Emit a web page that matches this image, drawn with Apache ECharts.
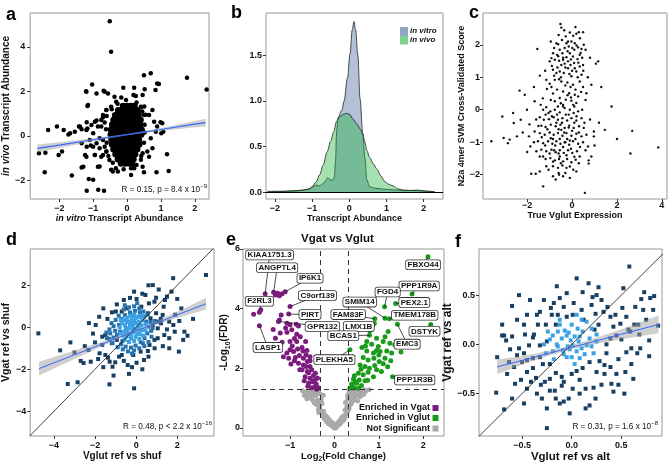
<!DOCTYPE html>
<html><head><meta charset="utf-8">
<script src="https://cdn.jsdelivr.net/npm/echarts@6/dist/echarts.min.js"></script>
<style>html,body{margin:0;padding:0;background:#fff}#c{width:668px;height:465px}</style>
</head><body><div id="c"></div><script>
// ---------- Panel a ----------
const aOutliers = [[-0.51,5.15],[-0.47,3.78],[0.50,2.73],[0.70,2.81],[1.77,2.61],[2.35,2.09],[-1.03,2.31],[-1.21,2.01],[-0.90,1.91],[-0.69,2.03],[-0.56,1.91],[-0.11,2.16],[0.21,2.16],[0.52,2.10],[0.94,2.33],[0.84,2.06],[0.19,1.84],[0.26,1.79],[-1.17,1.34],[-0.37,1.76],[-0.17,1.73],[0.75,1.16],[-2.33,0.27],[-2.07,0.42],[-1.87,0.27],[-1.68,0.12],[-1.73,0.07],[-1.42,0.42],[-1.34,0.30],[-1.17,0.34],[-1.19,0.61],[-0.90,0.69],[-0.71,0.84],[-1.00,0.12],[-2.60,-0.78],[-2.41,-0.75],[-2.43,-1.63],[-2.02,-0.85],[-1.92,-0.70],[-1.63,-1.78],[-1.34,-1.42],[-1.24,-0.85],[-1.19,-0.48],[-1.07,-0.43],[-0.95,-0.85],[-0.81,-1.37],[-1.13,-1.93],[-1.00,-1.97],[-1.19,-2.46],[-0.85,-2.42],[-0.68,-2.46],[-0.42,-1.60],[-0.27,-1.60],[0.12,-1.75],[0.50,-1.63],[0.87,-1.63],[1.23,-1.57],[1.18,-0.82],[1.01,0.12],[1.07,0.19],[1.04,0.57],[0.99,0.61],[0.89,0.42],[0.60,-0.70],[0.46,-0.78],[0.41,-1.07],[-0.61,-0.70],[-0.71,-0.85],[-0.66,-0.48],[-0.81,-0.10],[-0.76,0.42],[-0.61,1.16],[-0.47,1.31],[-0.32,1.54],[-0.03,1.61],[0.41,1.31],[0.50,0.94],
[-0.6,0.9],[-0.62,0.3],[-0.6,-0.3],[-0.55,-0.9],[-0.42,-1.2],[-0.33,-1.45],[0.28,-1.3],[0.42,-0.9],[0.5,-0.3],[0.52,0.5],[0.45,1.1],[0.28,1.5],[-0.28,1.45],[-0.45,1.2],[0.12,-1.45],[-0.1,-1.5],[0.52,0.15],[-0.66,0.6],[0.55,0.95],[0.42,1.3],
[-1.2,1.99],[-1.15,1.39],[-0.66,1.99],[-1.54,0.19],[-1.39,0.42],[-1.2,0.27],[-1.05,0.49],[-0.95,0.64],[-0.86,0.42],[-0.76,0.72],[-0.71,0.94],[-0.61,1.17],[-1.34,-0.33],[-1.1,-0.18],[-1.0,-0.48],[-0.9,-0.33],[-0.81,-0.55],[-0.71,-0.18],[-1.2,-0.93],[-0.95,-0.85],[-0.76,-0.93],[-0.61,-0.7],[-0.52,-1.08],[-0.86,-1.38],[-0.47,-1.52],[0.21,-1.45],[0.46,-1.38],[0.65,-0.93],[0.75,-0.55],[0.7,-0.1],[0.85,0.19],[0.8,0.64],[0.65,0.94],[0.51,1.32],[0.46,1.84],[0.89,2.36],[-1.29,-1.38]];
const aBlob = [[-0.12,1.35],[0,1.35],[0.12,1.35],[0.22,1.35],
[-0.26,1.15],[-0.14,1.15],[-0.02,1.15],[0.1,1.15],[0.21,1.15],[0.31,1.15],
[-0.35,0.93],[-0.23,0.93],[-0.11,0.93],[0.01,0.93],[0.13,0.93],[0.24,0.93],[0.34,0.93],
[-0.4,0.72],[-0.28,0.72],[-0.16,0.72],[-0.04,0.72],[0.08,0.72],[0.2,0.72],[0.31,0.72],[0.4,0.72],
[-0.44,0.5],[-0.32,0.5],[-0.2,0.5],[-0.08,0.5],[0.04,0.5],[0.16,0.5],[0.27,0.5],[0.38,0.5],
[-0.47,0.28],[-0.35,0.28],[-0.23,0.28],[-0.11,0.28],[0.01,0.28],[0.13,0.28],[0.24,0.28],[0.35,0.28],[0.43,0.28],
[-0.48,0.06],[-0.36,0.06],[-0.24,0.06],[-0.12,0.06],[0,0.06],[0.12,0.06],[0.23,0.06],[0.34,0.06],[0.42,0.06],
[-0.46,-0.16],[-0.34,-0.16],[-0.22,-0.16],[-0.1,-0.16],[0.02,-0.16],[0.14,-0.16],[0.25,-0.16],[0.35,-0.16],
[-0.44,-0.38],[-0.32,-0.38],[-0.2,-0.38],[-0.08,-0.38],[0.04,-0.38],[0.16,-0.38],[0.27,-0.38],[0.36,-0.38],
[-0.4,-0.6],[-0.28,-0.6],[-0.16,-0.6],[-0.04,-0.6],[0.08,-0.6],[0.2,-0.6],[0.3,-0.6],
[-0.34,-0.82],[-0.22,-0.82],[-0.1,-0.82],[0.02,-0.82],[0.14,-0.82],[0.24,-0.82],
[-0.27,-1.04],[-0.15,-1.04],[-0.03,-1.04],[0.09,-1.04],[0.19,-1.04],
[-0.18,-1.24],[-0.06,-1.24],[0.06,-1.24],[0.15,-1.24]];
const aFitX   = [-2.65,-2,-1,0,1,2,2.32];
const aFitY   = [-0.56,-0.41,-0.17,0.06,0.29,0.53,0.60];
const aFitLow = [-0.74,-0.54,-0.24,0.03,0.22,0.39,0.43];
const aFitHigh= [-0.38,-0.28,-0.10,0.09,0.36,0.67,0.77];

// ---------- Panel b ----------
const bInVitro = [[-2.2,0.005],[-2.0,0.008],[-1.8,0.008],[-1.6,0.012],[-1.4,0.015],[-1.2,0.025],[-1.05,0.04],[-0.95,0.07],[-0.88,0.08],[-0.8,0.07],[-0.72,0.09],[-0.65,0.12],[-0.58,0.16],[-0.52,0.14],[-0.45,0.13],[-0.4,0.17],[-0.37,0.35],[-0.34,0.68],[-0.3,0.82],[-0.2,0.9],[-0.14,1.0],[-0.05,1.25],[0.02,1.52],[0.08,1.78],[0.125,1.87],[0.17,1.78],[0.23,1.5],[0.29,1.02],[0.36,0.65],[0.42,0.38],[0.47,0.14],[0.55,0.06],[0.7,0.045],[0.9,0.035],[1.1,0.03],[1.4,0.02],[1.7,0.02],[1.9,0.015],[2.1,0.01],[2.3,0.005]];
const bInVivo = [[-2.2,0.01],[-1.8,0.012],[-1.5,0.018],[-1.25,0.025],[-1.1,0.035],[-1.0,0.06],[-0.9,0.11],[-0.8,0.19],[-0.7,0.3],[-0.6,0.44],[-0.5,0.56],[-0.42,0.66],[-0.34,0.78],[-0.25,0.83],[-0.15,0.855],[-0.07,0.865],[0.02,0.85],[0.1,0.8],[0.2,0.75],[0.3,0.69],[0.36,0.64],[0.42,0.55],[0.47,0.46],[0.55,0.38],[0.65,0.31],[0.75,0.25],[0.85,0.18],[0.95,0.12],[1.05,0.09],[1.18,0.07],[1.3,0.04],[1.45,0.025],[1.65,0.02],[1.85,0.025],[2.05,0.015],[2.3,0.005]];

// ---------- Panel c ----------
const cPoints = [[-3.6,-0.97],[-3.11,-0.21],[-3.05,-0.87],[-2.86,-1.03],[-2.78,-0.92],[-2.63,-0.1],[-2.6,-0.41],[-2.34,0.59],[-2.29,-0.31],[-2.11,0.46],[-2.46,-0.82],[-2.01,0.0],[-1.92,-0.82],[-1.86,-1.13],[-1.67,0.26],[-1.55,1.87],[-1.44,1.05],[-1.82,-1.97],[-1.62,-1.97],[-1.44,-1.9],[-1.29,-2.36],[-1.15,-1.74],[-0.85,-2.05],[-0.73,-2.15],[-0.58,-2.0],[-0.4,-2.05],[-0.1,-2.1],[0.19,-1.9],[0.57,-2.56],[0.74,-1.66],[0.74,-1.56],[0.86,-1.44],[0.97,-0.82],[0.97,-0.67],[1.46,-0.62],[1.76,0.1],[1.16,1.49],[1.06,1.42],[0.86,0.77],[0.64,0.51],[2.68,-0.65],[2.6,-1.35],[3.84,-1.16],
[-0.52,2.64],[-0.48,2.53],[-0.1,2.38],[0.19,2.34],[0.3,2.39],[0.49,2.39],[-0.28,2.26],[-0.7,2.05],[-0.62,2.02],[-0.03,2.1],[0.12,2.05],[0.27,1.92],[0.42,1.87],[-0.33,1.9],[-0.55,1.85],[-0.85,1.74],[-0.92,1.59],[-1.0,1.49],[-0.77,1.54],[-0.58,1.51],[-0.4,1.54],[-0.25,1.62],[-0.1,1.74],[0.04,1.64],[0.24,1.56],[-0.48,1.38],[-0.33,1.42],[-0.18,1.28],[-0.07,1.38],[0.12,1.28],[0.34,1.33],[0.49,1.38],[-0.85,1.23],[-0.7,1.13],[-0.55,1.18],[-0.37,1.13],[-0.03,1.03],[0.19,1.18],[0.42,1.08],[-1.15,0.92],[-0.77,0.92],[-0.48,0.87],[-0.21,0.84],[0.04,0.77],[0.34,0.87],[0.49,0.7],[-1.12,0.64],[-0.92,0.7],[-0.67,0.62],[-0.4,0.56],[-0.13,0.51],[0.12,0.46],[0.27,0.41],[-0.55,0.36],[-0.28,0.31],[-0.03,0.28],[-0.77,0.26],[0.19,0.21],[-0.4,0.15],[-0.63,0.1],[-0.18,2.1],[-0.43,1.74],[-0.67,1.69],[0.01,1.9],[0.52,2.0],[0.34,1.69],[-0.18,1.49],[0.09,1.44],[-0.58,0.94],[-0.07,0.7],
[-0.6,2.3],[-0.35,2.45],[0.05,2.28],[0.35,2.2],[-0.15,1.95],[0.2,1.98],[-0.45,2.15],[-0.8,1.9],[-0.2,1.8],[0.1,1.85],[0.38,1.75],[-0.62,1.65],[-0.05,1.55],[0.28,1.45],[-0.9,1.35],[-0.3,1.3],[0.0,1.2],[-0.65,1.3],[0.5,1.2],[-0.12,1.1],[-0.8,1.05],[-0.5,1.0],[0.25,1.0],[-1.0,0.8],[-0.3,0.75],[0.15,0.62],[-0.85,0.5],[-0.2,0.45],[0.4,0.55],[-1.3,0.35],[0.6,0.3],[-0.05,0.38],[-0.5,0.2],[0.05,0.15],[0.7,1.0],[0.8,1.6],[-1.2,1.2],[-0.95,2.1],[0.6,1.85],[0.15,2.55],[-0.25,2.05],[-0.4,1.6],[0.45,1.6],
[-1.29,0.0],[-1.15,0.08],[-1.18,-0.15],[-0.97,-0.05],[-0.77,0.0],[-0.55,-0.08],[-0.33,0.05],[-0.1,0.0],[0.07,-0.1],[0.27,-0.05],[-1.44,-0.23],[-1.26,-0.31],[-1.03,-0.29],[-0.82,-0.23],[-0.63,-0.31],[-0.43,-0.26],[-0.22,-0.33],[-0.03,-0.26],[0.19,-0.33],[0.42,-0.26],[-1.37,-0.49],[-1.18,-0.53],[-0.95,-0.46],[-0.73,-0.51],[-0.52,-0.46],[-0.33,-0.56],[-0.13,-0.49],[0.07,-0.56],[0.31,-0.51],[0.52,-0.56],[-1.67,-0.67],[-1.44,-0.72],[-1.22,-0.77],[-1.0,-0.7],[-0.82,-0.77],[-0.63,-0.72],[-0.43,-0.8],[-0.25,-0.72],[-0.03,-0.8],[0.19,-0.74],[0.42,-0.82],[0.64,-0.77],[-1.52,-0.97],[-1.29,-1.03],[-1.07,-0.97],[-0.88,-1.05],[-0.7,-0.97],[-0.52,-1.05],[-0.33,-1.0],[-0.13,-1.08],[0.04,-0.97],[0.27,-1.05],[0.49,-1.0],[-1.37,-1.23],[-1.15,-1.28],[-0.92,-1.23],[-0.73,-1.31],[-0.55,-1.25],[-0.37,-1.33],[-0.18,-1.25],[0.01,-1.33],[0.22,-1.28],[-1.18,-1.52],[-0.97,-1.49],[-0.77,-1.56],[-0.58,-1.52],[-0.4,-1.59],[-0.22,-1.52],[-0.03,-1.62],[0.16,-1.54],[-0.85,-1.74],[-0.63,-1.79],[-0.43,-1.72],[-0.25,-1.79],[-1.29,-1.44],[-0.67,-0.15],[-0.28,-0.15],[-0.48,-0.62],[-0.85,-0.9],[-0.22,-0.9],[-0.55,-1.44],[0.34,-1.44],[-1.44,-1.44],[-1.59,-1.28],[0.71,-1.13],
[-0.9,-0.2],[-0.45,-0.4],[-0.15,-0.15],[0.1,-0.4],[-1.1,-0.6],[-0.6,-0.6],[-0.35,-0.7],[0.0,-0.65],[0.3,-0.7],[-1.35,-0.85],[-0.95,-0.88],[-0.55,-0.9],[-0.1,-0.95],[0.15,-0.9],[-1.2,-1.1],[-0.75,-1.1],[-0.4,-1.15],[-0.05,-1.2],[0.35,-1.15],[-1.0,-1.35],[-0.6,-1.35],[-0.25,-1.4],[0.1,-1.45],[-0.85,-1.6],[-0.5,-1.65],[-0.1,-1.75],[0.3,-1.65],[-1.05,-1.85],[-0.6,-1.95],[-0.3,-1.95],[0.05,-1.85],[-1.5,-0.5],[-1.7,-1.0],[-1.6,-0.3],[0.55,-0.4],[0.6,-1.25],[-0.7,-0.4],[-0.3,-1.0],[-0.8,-1.25],[-0.15,-0.55],[0.2,-0.2],[-1.05,-0.1],[0.45,0.0],[-0.4,0.1],[-1.4,0.15],[-0.95,0.3],[0.1,0.1],[0.8,-0.3],[1.0,-1.1],[1.2,-0.4],[-2.2,-0.7],[-1.9,-0.45],[-2.0,-1.3],[1.3,0.7],[-1.7,0.7],[2.0,-0.9]];

// ---------- Panel d ----------
const dOuter = [[-4.76,-0.29],[-3.2,-0.72],[-3.33,-2.7],[-2.85,-2.62],[-2.56,-1.7],[-2.21,-1.64],[-2.32,-1.08],[-1.97,0.11],[-2.0,-0.72],[-1.78,-1.24],[-1.85,-1.51],[-1.65,-0.45],[-1.5,-1.32],[-1.37,-1.45],[-1.3,-2.72],[-1.29,-1.64],[-1.15,-1.88],[-1.02,-1.67],[-1.18,0.71],[-0.94,1.09],[-0.99,0.75],[-0.7,0.75],[-0.83,-1.4],[-0.41,-1.8],[-0.35,-2.22],[-0.1,-2.91],[0.02,-1.69],[0.38,-1.56],[0.02,1.35],[0.45,1.54],[0.62,1.14],[0.81,2.01],[0.89,1.22],[0.97,1.41],[1.34,0.98],[1.5,1.46],[1.8,2.34],[1.72,1.7],[2.0,1.35],[1.81,0.11],[1.61,-0.52],[1.61,-1.0],[1.88,-0.21],[2.08,-1.16],[2.29,-0.6],[2.35,-0.21],[3.4,2.49],[2.77,0.4],[1.05,-0.05],[1.21,0.19],[1.37,-0.37],[0.89,-0.6],[0.65,-0.84],[0.57,-1.13],[-0.7,-1.32],[-1.65,-0.84],[-1.5,-0.37],[0.57,0.67],[0.97,0.67],[0.25,0.98],[-0.46,0.9],[0.7,0.43],[1.29,0.59],[1.61,0.27],[1.05,0.27],[0.81,0.11],[-0.94,-0.6],[-1.18,-0.76],[-0.14,-1.32],[0.22,-1.16],[1.05,-0.52],
[-2.5,-0.9],[-2.7,-1.6],[-3.0,-1.2],[-2.1,-0.3],[-1.8,0.5],[-1.6,-1.9],[-1.1,-2.3],[-0.6,-1.6],[-0.2,-1.9],[0.3,-2.0],[0.6,-1.4],[0.9,-1.0],[1.3,-0.9],[1.5,-0.1],[1.2,0.4],[1.4,1.3],[0.3,1.6],[-0.3,1.4],[-0.6,1.3],[-1.4,0.4],[-1.6,0.9],[1.9,0.6],[2.2,0.9],[2.5,-0.4],[2.1,0.3],[1.1,1.8],[0.6,2.0],[-0.1,1.7],[-2.3,0.2],[-3.7,-1.1]];
const dMid = [[-1.42,-0.52],[-1.26,-0.29],[-1.02,-0.17],[-0.83,0.11],[-0.7,0.4],[-0.54,0.58],[-0.3,0.71],[-0.06,0.78],[0.18,0.71],[0.38,0.51],[0.49,0.27],[0.6,0.03],[0.54,-0.29],[0.41,-0.52],[0.22,-0.71],[-0.03,-0.87],[-0.25,-0.97],[-0.51,-0.92],[-0.73,-0.81],[-0.94,-0.37],[-1.1,-0.49],[-0.67,-0.65],[0.13,0.51],[-0.14,0.58],[0.73,-0.17],[0.33,-0.76],[-0.51,0.35],[-0.78,-0.21],
[-1.2,0.2],[-1.3,-0.1],[-1.0,0.35],[-0.85,0.55],[-0.6,0.85],[-0.35,0.95],[-0.1,1.0],[0.15,0.9],[0.35,0.75],[0.55,0.6],[0.7,0.25],[0.8,-0.05],[0.75,-0.45],[0.6,-0.7],[0.4,-0.9],[0.15,-1.0],[-0.1,-1.1],[-0.4,-1.15],[-0.65,-1.05],[-0.9,-0.95],[-1.15,-0.75],[-1.3,-0.55],[-1.45,-0.25],[-1.1,0.05],[0.9,0.3],[-0.2,-1.25],[0.05,1.15],[-0.55,1.05]];
const dCore = [[-0.54,0.11],[-0.38,0.27],[-0.22,0.4],[-0.03,0.43],[0.13,0.27],[0.25,0.08],[0.33,-0.13],[0.18,-0.33],[-0.03,-0.45],[-0.25,-0.52],[-0.46,-0.45],[-0.57,-0.21],[-0.35,-0.05],[-0.14,0.11],[0.02,-0.08],[-0.19,-0.24],[-0.41,-0.29],[0.1,0.03],[-0.1,0.27],[-0.3,0.11],[-0.06,-0.21],[-0.51,-0.05],
[-0.8,0.0],[-0.7,0.2],[-0.6,-0.4],[-0.45,0.45],[-0.3,0.55],[-0.1,0.6],[0.1,0.5],[0.3,0.35],[0.45,0.15],[0.45,-0.15],[0.35,-0.4],[0.15,-0.55],[-0.1,-0.65],[-0.35,-0.7],[-0.55,-0.6],[-0.75,-0.3],[-0.45,0.25],[-0.2,0.25],[0.0,0.2],[0.2,0.1],[-0.6,0.35],[-0.25,-0.35],[0.05,-0.3],[-0.45,-0.2],[-0.15,-0.05],[0.2,-0.15],[-0.75,0.35],[0.3,0.55]];
const dFitX   = [-4.73,-3,-2,-1,0,1,2,3.4];
const dFitY   = [-1.97,-1.31,-0.93,-0.55,-0.17,0.21,0.59,1.12];
const dFitLow = [-2.30,-1.51,-1.06,-0.62,-0.23,0.12,0.44,0.85];
const dFitHigh= [-1.64,-1.11,-0.80,-0.48,-0.11,0.30,0.74,1.39];
const dDiag = [[-5.2,-5.2],[3.8,3.8]];

// ---------- Panel e ----------
const eVgat = [[-1.82,3.81],[-1.69,3.88],[-1.66,3.96],[-1.69,3.43],[-1.56,4.5],[-1.33,4.46],[-1.28,4.52],[-1.37,4.55],[-1.11,4.57],[-1.18,4.5],[-1.24,4.43],[-1.0,4.07],[-1.03,3.82],[-1.2,3.79],[-1.26,3.57],[-1.24,3.62],[-1.07,3.51],[-1.0,3.46],[-0.86,3.48],[-0.81,3.42],[-1.22,3.18],[-1.07,3.21],[-0.96,3.29],[-0.85,3.14],[-1.33,3.01],[-1.18,2.87],[-1.0,2.9],[-0.77,3.06],[-1.15,2.39],[-1.07,2.51],[-1.0,2.62],[-0.92,2.56],[-0.83,2.65],[-0.73,2.7],[-1.03,2.34],[-0.88,2.36],[-0.79,2.43],[-0.7,2.34],[-0.64,2.45],[-0.98,2.14],[-0.81,2.17],[-0.7,2.11],[-0.61,2.23],[-0.55,2.06],[-0.73,1.95],[-0.61,1.89],[-0.51,1.95],[-0.43,1.83],[-0.66,1.72],[-0.55,1.67],[-0.47,1.76],[-0.38,1.67],[-0.58,1.5],[-0.49,1.55],[-0.41,1.47],[-0.51,1.35],[-0.36,1.35],[-0.43,1.39],[-0.85,2.9],[-0.71,2.58],[-0.55,2.39],[-0.64,2.06],
[-1.1,3.35],[-0.9,3.0],[-0.95,2.75],[-0.65,2.9],[-0.62,2.6],[-0.9,2.25],[-0.78,1.95],[-0.58,1.85],[-0.68,1.58],[-0.6,1.4],[-0.45,1.6],[-0.4,1.3],[-1.38,3.3],[-0.55,2.25]];
const eVglut = [[2.11,5.74],[1.75,4.49],[1.38,4.17],[1.13,4.06],[1.14,3.68],[1.24,3.66],[0.91,3.66],[0.9,3.5],[2.17,3.47],[1.42,3.48],[0.79,3.11],[0.35,2.62],[1.31,1.72],[0.8,3.26],[1.14,3.06],[1.21,3.23],[0.84,2.81],[0.99,2.73],[1.1,2.9],[1.25,2.84],[1.36,2.79],[0.73,2.58],[0.88,2.51],[1.03,2.56],[1.18,2.58],[1.29,2.51],[0.65,2.36],[0.76,2.28],[0.89,2.34],[1.01,2.23],[1.14,2.34],[1.27,2.25],[0.58,2.11],[0.69,2.06],[0.79,2.0],[0.91,2.09],[1.06,1.89],[0.54,1.83],[0.65,1.78],[0.76,1.87],[0.88,1.72],[0.43,1.64],[0.56,1.61],[0.69,1.58],[0.39,1.47],[0.5,1.5],[0.61,1.42],[0.44,1.35],[0.35,1.33],[0.54,1.33],[0.95,3.01],[0.73,2.9],
[0.62,2.7],[0.85,3.4],[1.0,2.45],[1.2,2.05],[0.75,1.6],[0.47,1.55],[0.4,1.4],[0.6,1.97],[0.95,1.95],[1.5,2.55],[0.95,2.6],[0.7,2.75],[0.45,1.75],[1.1,2.15]];
const eNS = [[0,0.0],[0.02,0.03],[-0.03,0.05],[0.06,0.06],[-0.07,0.08],[0.1,0.11],[-0.11,0.12],[0.14,0.17],[-0.15,0.18],[0.18,0.23],[-0.19,0.25],[0.08,0.18],[-0.06,0.2],[0.22,0.31],[-0.23,0.33],[0.2,0.4],[-0.2,0.42],[0.26,0.46],[-0.27,0.47],[0.3,0.56],[-0.3,0.58],[0.24,0.6],[-0.24,0.55],[0.33,0.64],[-0.35,0.52],[0.28,0.7],[-0.33,0.7],[0.36,0.78],[-0.4,0.78],[0.4,0.88],[-0.45,0.84],[0.35,0.95],[-0.38,0.92],[0.45,1.0],[-0.5,0.95],[0.5,1.1],[-0.62,0.98],[0.42,1.15],[-0.42,1.08],[0.55,1.2],[-0.6,1.1],[0.62,1.25],[-0.65,1.2],[0.7,1.22],[-0.72,1.25],[0.78,1.28],[-0.55,1.25],[0.38,1.25],[-0.5,1.15],[0.48,1.28],[-0.45,1.22],[0.58,1.05],[-0.36,1.25],[0.3,1.1],[-0.3,0.95],[0.25,0.85],[-0.25,1.1],[0.3,0.98],[-0.28,0.82],[0.12,0.25],[-0.12,0.28],[0.16,0.34],[-0.16,0.36],[0.04,0.12],[-0.02,0.14],[0.66,1.12],[-0.56,1.02],[0.52,0.9],
[0.03,0.0],[-0.01,0.02],[0.05,0.08],[-0.05,0.1],[0.12,0.14],[-0.13,0.15],[0.16,0.22],[-0.17,0.22],[0.24,0.36],[-0.25,0.38],[0.28,0.5],[-0.29,0.52],[0.32,0.72],[-0.36,0.62],[0.38,0.82],[-0.42,0.86],[0.43,0.95],[-0.47,0.9],[0.52,1.18],[-0.52,1.05],[0.6,1.15],[-0.58,1.18],[0.68,1.28],[-0.68,1.1],[0.33,1.2],[-0.33,1.15],[0.44,1.22],[-0.4,1.2],[0.36,1.05],[-0.34,0.85],[0.09,0.15],[-0.09,0.18],[0.2,0.26],[-0.21,0.3]];
const eLabelNames = ['KIAA1751.3','ANGPTL4','IP6K1','C9orf139','F2RL3','PIRT','GPR132','LASP1','FBXO44','PPP1R9A','PEX2.1','FGD4','SMIM14','TMEM178B','FAM83F','LMX1B','DSTYK','EMC3','BCAS1','PLEKHA5','PPP1R3B'];
const eLabelPoint = [[-1.56,4.5],[-1.37,4.55],[-1.11,4.57],[-1.0,4.07],[-1.66,3.96],[-1.03,3.82],[-1.26,3.57],[-1.69,3.43],[2.11,5.74],[1.75,4.49],[1.38,4.17],[1.13,4.06],[1.14,3.68],[1.24,3.66],[0.91,3.66],[0.9,3.5],[2.17,3.47],[1.42,3.48],[0.79,3.11],[0.35,2.62],[1.31,1.72]];
const eLabelPos = [[-1.46,5.8],[-1.29,5.37],[-0.55,5.02],[-0.38,4.44],[-1.69,4.25],[-0.55,3.8],[-0.27,3.4],[-1.5,2.7],[2.0,5.47],[1.91,4.76],[1.8,4.21],[1.2,4.56],[0.57,4.22],[1.81,3.78],[0.31,3.8],[0.55,3.4],[2.03,3.24],[1.64,2.81],[0.2,3.09],[0.0,2.29],[1.81,1.61]];

// ---------- Panel f ----------
const fOuter = [[-0.25,-0.85],[0.58,0.79],[0.05,0.67],[-0.15,0.59],[0.27,0.58],[-0.53,0.5],[0.11,0.53],[0.21,0.48],[-0.12,0.47],[0.2,0.4],[0.52,0.57],[0.73,0.53],[0.7,0.46],[0.72,0.35],[0.51,0.37],[-0.6,0.39],[-0.45,0.3],[-0.48,0.2],[-0.34,0.2],[-0.26,0.2],[-0.16,0.2],[-0.32,0.33],[-0.21,0.37],[-0.14,0.3],[-0.05,0.28],[0.01,0.3],[-0.7,0.09],[-0.66,0.04],[-0.6,0.08],[-0.53,-0.04],[-0.55,-0.11],[-0.48,-0.09],[-0.45,-0.16],[-0.75,-0.13],[-0.76,-0.49],[-0.68,-0.66],[-0.48,-0.6],[-0.51,-0.36],[-0.45,-0.28],[-0.39,-0.24],[-0.36,-0.34],[-0.31,-0.41],[-0.27,-0.38],[-0.22,-0.47],[-0.17,-0.47],[-0.16,-0.55],[-0.08,-0.58],[-0.03,-0.55],[0.01,-0.45],[0.08,-0.36],[0.14,-0.65],[0.18,-0.62],[0.22,-0.44],[0.3,-0.41],[0.42,-0.48],[0.47,-0.41],[0.54,-0.28],[0.55,-0.08],[0.6,-0.04],[0.66,-0.09],[0.69,-0.04],[0.78,0.04],[0.87,0.19],[0.83,0.49],[0.79,0.47],[0.63,0.2],[0.67,0.2],[0.59,0.13],[0.45,0.09],[0.42,0.18],[0.39,0.06],[0.35,-0.09],[0.28,-0.17],[0.33,-0.21],[0.39,-0.23],[0.25,-0.28],[0.18,-0.18],[0.11,-0.24],[-0.32,-0.13],[-0.29,-0.2],[-0.39,-0.14],[-0.16,-0.29],[-0.1,-0.33],[-0.08,-0.38],[-0.22,-0.35],[-0.58,-0.23],[-0.63,-0.18],[-0.68,0.09],[-0.39,0.07],[-0.32,-0.01],[-0.25,0.03],[-0.43,-0.01],[0.24,0.31],[0.32,0.33],[0.39,0.28],[0.55,0.28],[0.49,0.21],
[-0.7,0.2],[-0.62,-0.05],[-0.57,-0.4],[-0.65,-0.3],[-0.42,0.45],[-0.38,0.1],[-0.35,-0.5],[-0.28,0.45],[-0.25,-0.65],[-0.2,0.3],[-0.12,-0.6],[-0.05,0.52],[-0.02,-0.7],[0.02,0.42],[0.08,-0.5],[0.1,0.35],[0.14,-0.45],[0.17,0.62],[0.24,-0.55],[0.27,0.2],[0.3,0.45],[0.33,-0.3],[0.36,0.38],[0.4,-0.4],[0.44,0.3],[0.47,-0.15],[0.5,0.05],[0.53,-0.5],[0.57,0.15],[0.6,-0.2],[0.64,0.38],[0.68,0.1],[0.75,0.25],[0.78,-0.12],[0.82,0.35],[-0.5,-0.18],[-0.55,0.25],[-0.47,0.1],[-0.41,-0.38],[-0.3,-0.55],[-0.18,0.42],[-0.08,0.38],[0.05,-0.27],[0.12,0.25],[0.23,0.15],[0.35,0.0],[-0.22,-0.2],[-0.35,0.3],[-0.6,-0.55],[-0.45,-0.45],[0.45,-0.3],[0.62,-0.35],[0.25,0.5],[-0.1,-0.42],[0.0,-0.3]];
const fCore = [[-0.19,0.09],[-0.14,0.13],[-0.1,0.06],[-0.05,0.09],[-0.01,0.04],[0.03,0.08],[0.07,0.03],[0.01,-0.01],[-0.04,-0.02],[-0.09,-0.06],[-0.14,-0.02],[-0.19,-0.07],[0.05,-0.07],[0.1,-0.04],[0.15,-0.01],[0.18,0.06],[0.11,0.13],[0.06,0.16],[0.0,0.2],[-0.07,0.14],[-0.12,0.2],[-0.24,0.13],[-0.26,-0.09],[0.0,-0.13],[0.08,-0.14],[-0.05,-0.13],[0.22,-0.09],[0.25,0.03],[0.2,0.16],[0.15,0.23],
[-0.15,0.0],[-0.03,0.12],[0.08,0.08],[0.13,-0.1],[-0.08,-0.1],[-0.22,0.05],[0.2,-0.02],[0.03,-0.2],[-0.12,0.25],[0.1,0.25],[-0.18,-0.15],[0.25,0.1],[-0.28,0.0],[0.05,0.3],[-0.02,-0.05]];
const fFitX   = [-0.75,-0.5,-0.25,0,0.25,0.5,0.875];
const fFitY   = [-0.229,-0.163,-0.096,-0.03,0.036,0.103,0.202];
const fFitLow = [-0.304,-0.208,-0.121,-0.05,0.006,0.053,0.112];
const fFitHigh= [-0.154,-0.118,-0.071,-0.01,0.066,0.153,0.292];
const fDiag = [[-0.95,-0.95],[0.95,0.95]];

// ---------- Tick values ----------
const aXTicks=[-2,-1,0,1,2], aYTicks=[-2,0,2,4];
const bXTicks=[-2,-1,0,1,2], bYTicks=[0,0.5,1,1.5];
const cXTicks=[-2,0,2,4], cYTicks=[-2,-1,0,1,2];
const dXTicks=[-4,-2,0,2], dYTicks=[-4,-2,0,2];
const eXTicks=[-1,0,1,2], eYTicks=[0,2,4,6];
const fXTicks=[-0.5,0,0.5], fYTicks=[-0.5,0,0.5];

// ---------- Build ----------
const FN = "'Liberation Sans',Arial,sans-serif";
const INK = '#111';
function num(v,d){ const s = d==null ? String(v) : Number(v).toFixed(d); return s.replace('-','\u2212'); }
function axis(gi,o){
  const fs=o.fs||9;
  const ax = {gridIndex:gi,type:'value',min:o.min,max:o.max,
    axisLine:{show:false,onZero:false},splitLine:{show:false},
    axisTick:{show:true,customValues:o.ticks,length:3,lineStyle:{color:'#333',width:1}},
    axisLabel:{customValues:o.ticks,formatter:v=>num(v,o.dec),margin:o.lm,fontFamily:FN,fontSize:9,fontWeight:'bold',color:INK},
    name:o.name||'',nameLocation:'middle',nameGap:o.ng||0,
    nameTextStyle:{fontFamily:FN,fontSize:fs,fontWeight:'bold',color:INK}};
  if(o.rich) ax.nameTextStyle.rich=o.rich(fs);
  return ax;
}
const richIt = fs=>({i:{fontFamily:FN,fontSize:fs,fontWeight:'bold',fontStyle:'italic',color:INK},n:{fontFamily:FN,fontSize:fs,fontWeight:'bold',color:INK}});
const richSub = fs=>({n:{fontFamily:FN,fontSize:fs,fontWeight:'bold',color:INK,lineHeight:fs+4},s:{fontFamily:FN,fontSize:fs*0.7,fontWeight:'bold',color:INK,lineHeight:fs*0.7,verticalAlign:'bottom'}});
function scatter(gi,data,size,color,sym,z){ return {type:'scatter',xAxisIndex:gi,yAxisIndex:gi,data:data,symbol:sym||'circle',symbolSize:size,itemStyle:{color:color,opacity:1},silent:true,z:z||2}; }
function line(gi,data,color,w,z){ return {type:'line',xAxisIndex:gi,yAxisIndex:gi,data:data,symbol:'none',showSymbol:false,lineStyle:{color:color,width:w},silent:true,z:z||4}; }
function band(gi,xs,lo,hi){
  return {type:'custom',xAxisIndex:gi,yAxisIndex:gi,data:[[xs[0],lo[0]]],silent:true,z:3,
    renderItem:(p,api)=>{const P=[];for(let i=0;i<xs.length;i++)P.push(api.coord([xs[i],hi[i]]));for(let i=xs.length-1;i>=0;i--)P.push(api.coord([xs[i],lo[i]]));
      return {type:'polygon',shape:{points:P},style:{fill:'rgba(160,160,160,0.5)'}};}};
}
const zip=(xs,ys)=>xs.map((x,i)=>[x,ys[i]]);

const BLUE='#3366FF';
const dDark='#183f62', dMidC='#2672ad', dLight='#3aa2e4';
const ePurple='#7d1b7e', eGreen='#1a9c1a', eGray='#a9a9a9';

const series=[
  scatter(0,aOutliers,4.5,'#000'),
  scatter(0,aBlob,6.5,'#000'),
  band(0,aFitX,aFitLow,aFitHigh),
  line(0,zip(aFitX,aFitY),BLUE,1.2),
  {type:'line',xAxisIndex:1,yAxisIndex:1,data:bInVitro,symbol:'none',smooth:0.35,smoothMonotone:'x',lineStyle:{color:'#222',width:0.8},areaStyle:{color:'rgba(72,107,157,0.6)'},silent:true,z:2,
   markLine:{silent:true,symbol:'none',label:{show:false},lineStyle:{color:'#000',width:1,type:'solid'},data:[{yAxis:0}]}},
  {type:'line',xAxisIndex:1,yAxisIndex:1,data:bInVivo,symbol:'none',smooth:0.35,smoothMonotone:'x',lineStyle:{color:'#222',width:0.8},areaStyle:{color:'rgba(27,178,57,0.57)'},silent:true,z:3},
  scatter(2,cPoints,2.4,'#111'),
  scatter(3,dOuter,4,dDark,'rect'),
  scatter(3,dMid,4,dMidC,'rect'),
  scatter(3,dCore,4,dLight,'rect'),
  line(3,dDiag,'#111',0.8,3),
  band(3,dFitX,dFitLow,dFitHigh),
  line(3,zip(dFitX,dFitY),BLUE,1),
  scatter(4,eNS,5,eGray),
  scatter(4,eVgat,5,ePurple),
  scatter(4,eVglut,5,eGreen),
  {type:'line',xAxisIndex:4,yAxisIndex:4,data:[],silent:true,
   markLine:{silent:true,symbol:'none',label:{show:false},lineStyle:{color:'#333',width:1,type:[5,4]},data:[{xAxis:-0.32},{xAxis:0.32},{yAxis:1.3}]}},
  {type:'custom',xAxisIndex:4,yAxisIndex:4,silent:true,z:6,data:eLabelPos,
   renderItem:(p,api)=>{const i=p.dataIndex;const a=api.coord(eLabelPoint[i]);const b=api.coord(eLabelPos[i]);
     return {type:'group',children:[
       {type:'line',shape:{x1:a[0],y1:a[1],x2:b[0],y2:b[1]},style:{stroke:'#222',lineWidth:0.8}},
       {type:'text',x:b[0],y:b[1],style:{text:eLabelNames[i],align:'center',verticalAlign:'middle',fontFamily:FN,fontSize:8,fontWeight:'bold',fill:INK,backgroundColor:'#fff',borderColor:'#333',borderWidth:0.8,borderRadius:2,padding:[1,1.5,0,1.5]}}]};}},
  scatter(5,fOuter,4,dDark,'rect'),
  scatter(5,fCore,4,dLight,'rect'),
  line(5,fDiag,'#111',0.8,3),
  band(5,fFitX,fFitLow,fFitHigh),
  line(5,zip(fFitX,fFitY),BLUE,1)
];

const grids=[[28,13,181,186],[266,13,177,186],[483,13,184,186],[27,249,187,187],[243,249,201,187],[479,249,183,187]]
  .map(g=>({left:g[0],top:g[1],width:g[2],height:g[3],show:true,borderColor:'#999',borderWidth:1,backgroundColor:'transparent'}));

const xAxis=[
  axis(0,{min:-2.86,max:2.42,ticks:aXTicks,lm:5,name:'{i|in vitro}{n| Transcript Abundance}',ng:15,rich:richIt,fs:9}),
  axis(1,{min:-2.24,max:2.52,ticks:bXTicks,lm:5,name:'Transcript Abundance',ng:15,fs:9}),
  axis(2,{min:-3.97,max:4.23,ticks:cXTicks,lm:2,name:'True Vglut Expression',ng:8,fs:9}),
  axis(3,{min:-5.16,max:3.79,ticks:dXTicks,lm:5,name:'Vglut ref vs shuf',ng:14,fs:10}),
  axis(4,{min:-2.06,max:2.47,ticks:eXTicks,lm:5,name:'{n|Log}{s|2}{n|(Fold Change)}',ng:12,rich:richSub,fs:9.5}),
  axis(5,{min:-0.933,max:0.909,ticks:fXTicks,dec:1,lm:5,name:'Vglut ref vs alt',ng:13,fs:11.5})
];
const yAxis=[
  axis(0,{min:-2.83,max:5.52,ticks:aYTicks,lm:5,name:'{i|in vivo}{n| Transcript Abundance}',ng:17,rich:richIt,fs:10}),
  axis(1,{min:-0.073,max:1.963,ticks:bYTicks,dec:1,lm:4}),
  axis(2,{min:-2.75,max:2.98,ticks:cYTicks,lm:3,name:'N2a 4mer SVM Cross-Validated Score',ng:10,fs:9}),
  axis(3,{min:-5.18,max:3.73,ticks:dYTicks,lm:4,name:'Vgat ref vs shuf',ng:15,fs:10.5}),
  axis(4,{min:-0.27,max:6.0,ticks:eYTicks,lm:3,name:'{n|-Log}{s|10}{n|(FDR)}',ng:5,rich:richSub,fs:10}),
  axis(5,{min:-0.93,max:0.968,ticks:fYTicks,dec:1,lm:4,name:'Vgat ref vs alt',ng:16,fs:12})
];

function letter(t,x,y){return {type:'text',x:x,y:y,silent:true,style:{text:t,fontFamily:FN,fontSize:18,fontWeight:'bold',fill:'#000',verticalAlign:'bottom'}};}
function rtext(main,sup,x,y){return {type:'text',x:x,y:y,silent:true,z:10,style:{text:'{n|'+main+'}{s|'+sup+'}',align:'right',verticalAlign:'middle',
  rich:{n:{fontFamily:FN,fontSize:8.2,fill:INK,color:INK,lineHeight:13},s:{fontFamily:FN,fontSize:6,fill:INK,color:INK,lineHeight:6,verticalAlign:'top'}}}};}
function legText(t,x,y,fs,italic,align){return {type:'text',x:x,y:y,silent:true,style:{text:t,fontFamily:FN,fontSize:fs,fontWeight:'bold',fontStyle:italic?'italic':'normal',fill:INK,align:align||'left',verticalAlign:'middle'}};}
function sq(x,y,w,h,c){return {type:'rect',silent:true,shape:{x:x,y:y,width:w,height:h},style:{fill:c}};}

const graphic=[
  letter('a',6,24), letter('b',231,22), letter('c',469,22),
  letter('d',6,249), letter('e',226,249), letter('f',455,251),
  {type:'text',x:337.5,y:239,silent:true,style:{text:'Vgat vs Vglut',fontFamily:FN,fontSize:11.5,fontWeight:'bold',fill:INK,align:'center',verticalAlign:'middle'}},
  rtext('R = 0.15, p = 8.4 x 10','\u22129',207,190),
  rtext('R = 0.48, p < 2.2 x 10','\u221216',212,427),
  rtext('R = 0.31, p = 1.6 x 10','\u22128',658,427),
  sq(400,27,8,9,'rgba(72,107,157,0.6)'), sq(400,36,8,8.5,'rgba(27,178,57,0.57)'),
  legText('in vitro',410,31,8,true), legText('in vivo',410,40,8,true),
  legText('Enriched in Vgat',430,408,9,false,'right'), sq(432.5,405,6,6,ePurple),
  legText('Enriched in Vglut',430,418,9,false,'right'), sq(432.5,415,6,6,eGreen),
  legText('Not Significant',430,428.5,9,false,'right'), sq(432.5,425.5,6,6,eGray)
];

const chart=echarts.init(document.getElementById('c'),null,{renderer:'canvas'});
chart.setOption({animation:false,backgroundColor:'#fff',grid:grids,xAxis:xAxis,yAxis:yAxis,series:series,graphic:graphic});
</script></body></html>
